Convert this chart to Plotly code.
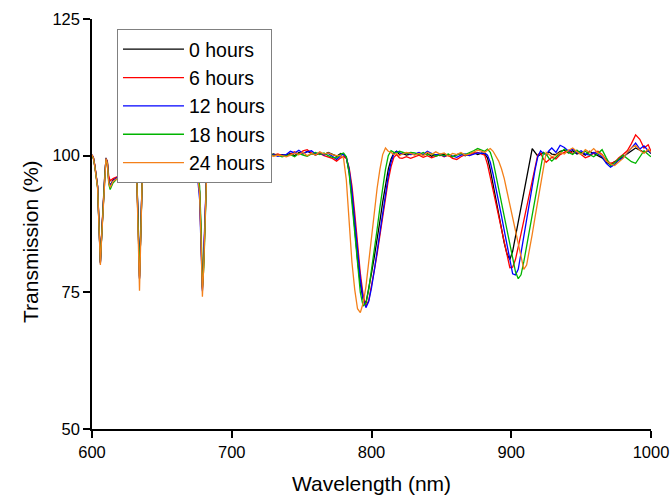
import plotly.graph_objects as go

wavelength = [
    600, 601, 602, 603, 604, 605, 606, 607, 608, 609, 610, 611, 612, 613, 615, 618, 622, 626, 630,
    632, 633, 634, 635, 636, 638, 643, 650, 658, 666, 672, 675, 677, 678, 679, 680, 681, 682, 684,
    687, 691, 696,
    700, 703, 706, 709, 712, 715, 718, 721, 724, 727, 730, 733, 736, 739, 742, 745, 748, 751, 754,
    757, 760, 763, 766, 769, 772, 775, 778,
    780, 782, 784, 786, 788, 790, 792, 794, 796, 798, 800, 802, 804, 806, 808, 810, 812, 814, 816,
    818, 820, 822, 825, 828,
    831, 834, 837, 840, 843, 846, 849, 852, 855, 858, 861, 864, 867, 870, 873, 876, 879,
    881, 883, 885, 887, 889, 891, 893, 895, 897, 899, 901, 903, 905, 907, 909, 911, 913, 915, 917,
    919, 921, 923, 925, 927, 929,
    932, 935, 938, 941, 944, 947, 950, 953, 956, 959, 962, 965, 968, 971, 974, 977, 980, 983, 986,
    989, 992, 995, 998, 1000,
]

t0_hours = [
    100.0, 99.6, 98.2, 96.5, 94.5, 87.5, 80.3, 86.0, 91.5, 95.8, 99.6, 98.8, 95.5, 94.5, 95.5, 96.0,
    96.5, 97.0, 97.3, 96.6, 88.5, 77.5, 87.0, 96.6, 97.6, 97.7, 97.9, 98.1, 98.2, 98.3, 97.9, 93.5,
    86.0, 75.5, 81.0, 90.5, 96.6, 98.6, 99.5, 99.9, 100.1,
    100.0, 100.1, 99.9, 100.2, 100.0, 100.3, 100.1, 100.2, 99.9, 100.1, 100.3, 100.0, 100.2, 100.1,
    100.4, 100.0, 100.6, 100.3, 100.8, 100.4, 100.1, 100.5, 100.2, 100.6, 100.3, 99.9, 100.4,
    100.2, 99.6, 97.0, 92.5, 86.5, 81.0, 76.5, 73.8, 73.0, 75.5, 78.5, 81.5, 84.5, 88.0, 91.5, 94.8,
    97.5, 99.4, 100.5, 100.8, 100.2, 100.4, 100.1, 100.3,
    100.2, 100.5, 100.1, 100.4, 99.9, 100.2, 100.0, 100.3, 100.1, 99.8, 100.2, 100.4, 100.0, 100.3,
    100.6, 100.2, 100.5,
    100.3, 99.6, 97.4, 94.6, 91.8, 89.1, 86.5, 84.0, 82.0, 81.0, 82.5, 85.2, 88.0, 90.8, 93.5, 96.2,
    99.0, 101.3, 100.6, 99.9, 100.2, 100.6, 100.1, 100.7, 100.3,
    100.2, 100.8, 101.0, 100.5, 100.9, 100.3, 100.6, 100.1, 100.8, 100.4, 100.0, 99.6, 98.8, 98.4,
    98.9, 99.2, 99.8, 100.3, 100.8, 101.4, 101.0, 100.6, 100.9, 100.4,
]

t6_hours = [
    100.1, 99.7, 98.3, 96.4, 94.3, 87.8, 80.5, 86.2, 91.8, 96.0, 99.4, 99.0, 96.2, 95.4, 95.8, 96.1,
    96.6, 97.1, 97.3, 96.5, 88.8, 77.8, 86.8, 96.5, 97.5, 97.7, 97.8, 98.0, 98.2, 98.2, 97.8, 93.2,
    85.5, 75.8, 81.5, 90.8, 96.7, 98.7, 99.5, 99.8, 100.0,
    100.1, 99.9, 100.2, 100.0, 100.3, 99.8, 100.1, 100.0, 100.2, 99.9, 100.1, 100.3, 100.0, 99.9,
    100.3, 100.7, 100.2, 100.9, 101.1, 100.5, 100.2, 100.4, 100.0, 99.8, 99.5, 99.0, 99.6,
    99.8, 99.5, 97.8, 94.5, 89.5, 84.0, 78.5, 74.5, 72.5, 73.5, 76.0, 79.0, 82.0, 85.5, 89.0, 92.5,
    95.5, 98.0, 99.7, 100.2, 99.6, 99.5, 99.8, 99.5,
    99.8, 100.1, 99.7, 100.0, 99.6, 99.9, 100.2, 99.8, 100.1, 99.5, 99.3, 99.8, 100.2, 100.0, 100.4,
    100.6, 100.3,
    100.1, 98.4, 96.0, 93.5, 91.0, 88.6, 86.2, 83.8, 81.3, 79.5, 79.6, 81.0, 83.3, 85.7, 88.1, 90.5,
    92.8, 95.2, 97.6, 100.2, 100.5, 99.4, 98.8, 99.2, 99.7,
    99.4, 100.2, 100.6, 101.0, 100.4, 100.8, 100.2, 99.6, 99.9, 100.5, 100.8, 100.2, 99.2, 98.6,
    98.8, 99.6, 100.2, 100.9, 102.2, 103.8, 103.0, 101.4, 102.0, 100.8,
]

t12_hours = [
    100.2, 99.6, 98.1, 96.3, 94.4, 87.2, 80.4, 85.8, 91.4, 95.7, 99.5, 98.7, 95.3, 94.4, 95.4, 96.0,
    96.4, 96.9, 97.2, 96.4, 88.2, 77.6, 87.2, 96.7, 97.6, 97.8, 97.9, 98.1, 98.3, 98.3, 97.6, 92.0,
    83.0, 75.2, 82.5, 91.5, 97.0, 98.8, 99.6, 99.9, 100.1,
    99.9, 100.2, 100.0, 100.1, 99.8, 100.2, 100.0, 100.3, 100.1, 100.0, 100.2, 99.9, 100.1, 100.2,
    100.8, 100.5, 101.0, 100.4, 100.7, 100.9, 100.3, 100.6, 100.1, 100.4, 99.9, 99.3, 100.0,
    100.3, 99.7, 97.5, 93.5, 88.0, 82.5, 77.5, 73.8, 72.2, 73.3, 75.8, 79.0, 82.5, 86.0, 89.8, 93.2,
    96.3, 98.8, 100.3, 100.8, 100.6, 100.3, 100.5, 100.2,
    100.3, 100.6, 100.2, 100.8, 100.4, 100.1, 100.3, 99.9, 100.2, 100.0, 99.7, 100.1, 100.3, 100.0,
    100.2, 100.5, 100.4,
    100.5, 100.1, 98.8, 96.6, 94.2, 91.6, 89.0, 86.3, 83.5, 80.8, 78.4, 78.2, 79.2, 82.2, 85.3, 88.4,
    91.5, 94.5, 97.4, 99.8, 100.9, 100.4, 100.2, 100.9, 101.4,
    100.6, 101.9, 101.5, 100.8, 101.2, 100.5, 100.9, 100.3, 100.1, 100.6, 100.3, 99.8, 98.6, 97.9,
    98.4, 99.2, 99.6, 100.5, 101.6, 102.3, 101.2, 101.8, 100.9, 100.5,
]

t18_hours = [
    100.0, 99.5, 98.0, 96.2, 94.1, 87.3, 80.6, 85.6, 91.2, 95.6, 99.3, 98.6, 94.8, 93.8, 95.0, 95.8,
    96.3, 96.8, 97.2, 96.7, 89.0, 78.0, 86.5, 96.4, 97.5, 97.6, 97.8, 98.0, 98.1, 98.2, 98.0, 94.5,
    87.5, 76.0, 79.5, 89.5, 96.2, 98.5, 99.4, 99.8, 100.0,
    100.0, 99.8, 100.1, 100.2, 99.9, 100.0, 100.2, 99.9, 100.1, 100.3, 100.0, 100.1, 99.8, 100.0,
    100.2, 99.8, 100.4, 100.1, 99.9, 100.3, 100.6, 100.2, 100.5, 100.0, 99.7, 99.6, 100.3,
    100.5, 99.8, 96.8, 91.5, 85.5, 79.5, 75.0, 72.5, 73.0, 75.5, 79.0, 82.8, 86.5, 90.5, 94.2, 97.5,
    100.0, 100.9, 100.6, 100.5, 100.8, 100.6, 100.4, 100.6,
    100.5, 100.2, 100.6, 100.1, 100.4, 99.9, 100.2, 100.0, 100.3, 99.8, 100.1, 100.4, 100.2, 100.5,
    100.9, 101.3, 101.0,
    100.8, 101.2, 100.6, 99.0, 96.4, 93.9, 91.4, 88.9, 86.3, 83.8, 81.3, 78.8, 77.5, 78.2, 80.6, 83.5,
    86.4, 89.3, 92.2, 95.1, 98.0, 100.5, 100.3, 99.5, 99.0,
    99.8, 100.5, 101.2, 100.6, 100.2, 101.0, 100.4, 100.8, 100.2, 99.8, 100.4, 101.1, 99.6, 98.2,
    98.7, 99.4, 100.1, 99.5, 98.9, 98.6, 99.8, 100.9, 100.2, 99.8,
]

t24_hours = [
    100.2, 99.5, 98.0, 96.2, 94.2, 87.0, 80.0, 85.5, 91.0, 95.5, 99.5, 98.5, 95.0, 94.2, 95.3, 95.8,
    96.3, 96.8, 97.2, 96.5, 88.0, 75.3, 86.0, 96.5, 97.5, 97.6, 97.8, 98.0, 98.1, 98.2, 97.8, 93.0,
    85.0, 74.2, 80.0, 90.0, 96.5, 98.5, 99.4, 99.8, 100.0,
    100.1, 100.0, 100.2, 99.9, 100.1, 100.2, 99.8, 100.1, 100.0, 100.2, 99.9, 100.1, 100.0, 99.8,
    100.1, 100.5, 100.2, 100.6, 100.0, 100.4, 100.1, 100.7, 100.3, 100.5, 100.2, 100.0, 100.0,
    99.5, 95.5, 87.0, 80.5, 75.5, 72.0, 71.3, 73.0, 76.0, 80.5, 85.2, 89.8, 94.0, 97.5, 100.2, 101.4,
    100.8, 100.6, 100.2, 100.4, 100.0, 100.3, 100.6, 100.4,
    100.1, 100.4, 100.0, 100.6, 100.2, 100.7, 100.3, 100.5, 99.9, 100.4, 100.2, 100.6, 100.1, 100.3,
    100.7, 101.0, 100.8,
    100.6, 101.0, 101.3, 100.8, 100.0, 99.0, 97.6, 95.8, 93.4, 91.0, 88.6, 86.2, 83.6, 81.0, 79.2,
    80.0, 82.6, 85.6, 88.7, 91.8, 94.9, 98.0, 100.6, 100.2, 99.8,
    100.1, 100.6, 100.3, 101.0, 101.4, 100.7, 100.2, 101.1, 100.6, 101.3, 100.5, 100.1, 99.0, 98.5,
    98.2, 98.9, 99.5, 100.6, 101.4, 101.9, 101.0, 100.4, 101.2, 100.6,
]

series_names = ["0 hours", "6 hours", "12 hours", "18 hours", "24 hours"]
series_values = [t0_hours, t6_hours, t12_hours, t18_hours, t24_hours]
series_colors = ["#000000", "#FF0000", "#0000FF", "#00B400", "#F4801A"]

x_ticks = [600, 700, 800, 900, 1000]
y_ticks = [50, 75, 100, 125]

fig = go.Figure()
for name, vals, col in zip(series_names, series_values, series_colors):
    fig.add_trace(go.Scatter(x=wavelength, y=vals, mode="lines", name=name,
                             line=dict(color=col, width=1.3)))

font_family = "Liberation Sans, Arial, sans-serif"
axis_common = dict(showline=True, linecolor="black", linewidth=1.5, ticks="outside",
                   ticklen=7, tickwidth=1.5, tickcolor="black", showgrid=False,
                   zeroline=False, automargin=False,
                   tickfont=dict(size=16.5, family=font_family, color="black"))

fig.update_layout(
    width=672, height=498, autosize=False,
    margin=dict(l=92, r=21, t=19, b=69),
    paper_bgcolor="white", plot_bgcolor="white",
    font=dict(family=font_family, color="black"),
    showlegend=True,
    legend=dict(x=0.0447, y=0.9756, xanchor="left", yanchor="top",
                bgcolor="white", bordercolor="#808080", borderwidth=1,
                font=dict(size=19.5, family=font_family, color="black"),
                traceorder="normal", itemwidth=61),
    xaxis=dict(range=[600, 1000], tickvals=x_ticks, ticktext=[str(v) for v in x_ticks],
               **axis_common),
    yaxis=dict(range=[50, 125], tickvals=y_ticks, ticktext=[str(v) for v in y_ticks],
               **axis_common),
    annotations=[
        dict(text="Wavelength (nm)", xref="paper", yref="paper", x=0.5, y=-0.133,
             xanchor="center", yanchor="middle", showarrow=False,
             font=dict(size=21, family=font_family, color="black")),
        dict(text="Transmission (%)", xref="paper", yref="paper", x=-0.111, y=0.4585,
             xanchor="center", yanchor="middle", showarrow=False, textangle=-90,
             font=dict(size=21, family=font_family, color="black")),
    ],
)

fig.write_html(
    "out.html",
    config={"displayModeBar": False},
    post_script="document.body.style.margin='0';document.body.style.overflow='hidden';",
)
